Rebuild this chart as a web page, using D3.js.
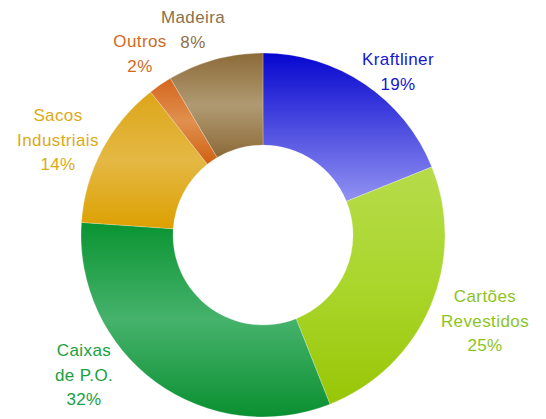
<!DOCTYPE html>
<html>
<head>
<meta charset="utf-8">
<script src="https://cdn.jsdelivr.net/npm/d3@7"></script>
<style>
  body { margin: 0; background: #fff; }
  text { font-family: "Liberation Sans", Arial, sans-serif; font-size: 17px; letter-spacing: 0.4px; }
</style>
</head>
<body>
<svg width="546" height="419"></svg>
<script>
// shares (clockwise from 12 o'clock)
var categories = ["Kraftliner", "Cartões Revestidos", "Caixas de P.O.", "Sacos Industriais", "Outros", "Madeira"];
var shares = [18.9, 25.1, 32.1, 13.3, 2.1, 8.5];
var pctLabels = ["19%", "25%", "32%", "14%", "2%", "8%"];
var labelLines = [["Kraftliner"], ["Cartões", "Revestidos"], ["Caixas", "de P.O."], ["Sacos", "Industriais"], ["Outros"], ["Madeira"]];

// gradient stops per slice (top, middle, bottom)
var gradStops = [
  ["#0606d0", "#4c4ce0", "#9292f2"],
  ["#b6dc4a", "#aad62c", "#98c606"],
  ["#0a9432", "#46b26c", "#0a9030"],
  ["#dca618", "#e4b844", "#dca000"],
  ["#d4661e", "#e0904e", "#d06010"],
  ["#8c6a38", "#b09a72", "#8c6a38"]
];
var textColors = ["#1616d2", "#8cc41e", "#18a040", "#dcaa14", "#d2691e", "#8c7048"];

var svg = d3.select("svg");
var cx = 263, cy = 235;
var outerR = 182, innerR = 90;

var defs = svg.append("defs");
gradStops.forEach(function (s, i) {
  var g = defs.append("linearGradient")
    .attr("id", "g" + i)
    .attr("x1", 0).attr("y1", 0).attr("x2", 0).attr("y2", 1);
  g.selectAll("stop").data(s).enter().append("stop")
    .attr("offset", (d, j) => j / (s.length - 1))
    .attr("stop-color", d => d);
});

var pie = d3.pie().sort(null).value(d => d);
var arc = d3.arc().innerRadius(innerR).outerRadius(outerR);

var g = svg.append("g").attr("transform", "translate(" + cx + "," + cy + ")");
g.selectAll("path")
  .data(pie(shares))
  .enter()
  .append("path")
  .attr("d", arc)
  .attr("fill", (d, i) => "url(#g" + i + ")")
  .attr("stroke", "#fff")
  .attr("stroke-opacity", 0.4)
  .attr("stroke-width", 0.6);

// label anchor positions (centre x, first baseline)
var labelPos = [[398, 65], [485, 302], [84, 356], [58, 121], [140, 47], [193, 23]];

var labels = svg.selectAll("text.lbl")
  .data(categories)
  .enter()
  .append("text")
  .attr("class", "lbl")
  .attr("text-anchor", "middle")
  .attr("fill", (d, i) => textColors[i]);

labels.each(function (d, i) {
  var t = d3.select(this);
  var lines = labelLines[i].concat([pctLabels[i]]);
  lines.forEach(function (l, j) {
    t.append("tspan")
      .attr("x", labelPos[i][0])
      .attr("y", labelPos[i][1] + j * 24.5)
      .text(l);
  });
});
</script>
</body>
</html>
